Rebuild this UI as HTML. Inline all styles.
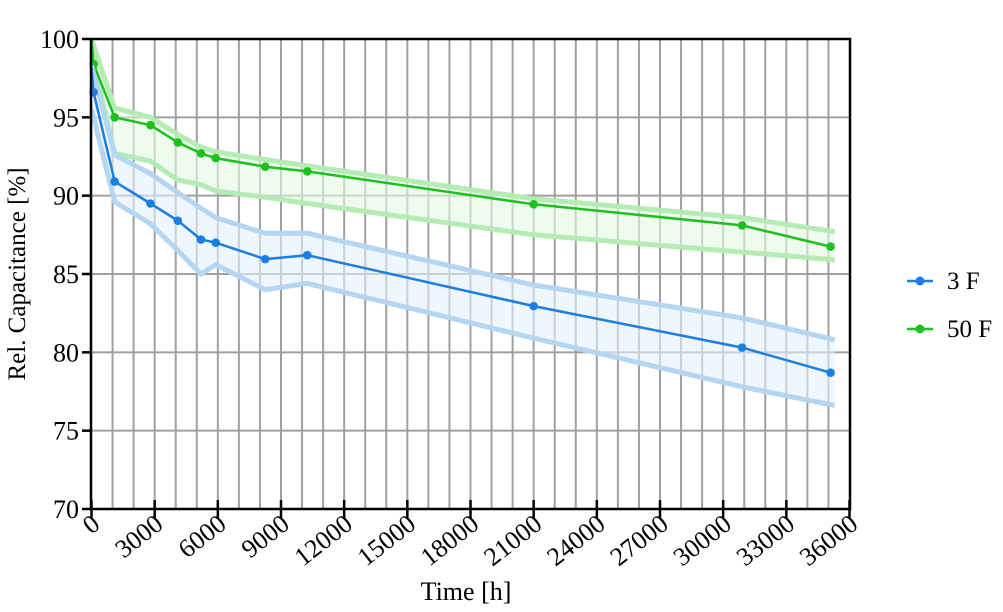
<!DOCTYPE html>
<html><head><meta charset="utf-8"><style>
html,body{margin:0;padding:0;background:#fff;}
svg text{font-family:"Liberation Serif",serif;fill:#000;}
</style></head><body>
<svg id="s" width="1003" height="607" xmlns="http://www.w3.org/2000/svg"></svg>
<script>
const S=document.getElementById('s');
const X=h=>91.5+h*(758/36000), Y=v=>39+(100-v)*(470/30);
let o='';
for(let h=1000;h<36000;h+=1000)o+=`<line x1="${X(h)}" y1="39" x2="${X(h)}" y2="509" stroke="#a0a0a0" stroke-width="2"/>`;
for(let v=75;v<100;v+=5)o+=`<line x1="91" y1="${Y(v)}" x2="850" y2="${Y(v)}" stroke="#a0a0a0" stroke-width="2"/>`;
const pts=(a)=>a.map(p=>X(p[0]).toFixed(1)+','+Y(p[1]).toFixed(1)).join(' ');
function series(main,up,lo,col,band,fill){
 const poly=up.map(p=>[p[0],p[1]]).concat(lo.slice().reverse());
 o+=`<polygon points="${pts(poly)}" fill="${fill}" opacity="0.6"/>`;
 o+=`<polyline points="${pts(up)}" fill="none" stroke="${band}" stroke-width="5"/>`;
 o+=`<polyline points="${pts(lo)}" fill="none" stroke="${band}" stroke-width="5"/>`;
 o+=`<polyline points="${pts(main)}" fill="none" stroke="${col}" stroke-width="2.5"/>`;
 main.slice(1).forEach(p=>o+=`<circle cx="${X(p[0])}" cy="${Y(p[1])}" r="4.3" fill="${col}"/>`);
}
const hs=[1100,2800,4100,5200,5900,8250,10250,21000,30900,35100];
series([[0,100],[100,98.4]].concat(hs.map((h,i)=>[h,[95.0,94.5,93.4,92.7,92.4,91.85,91.55,89.45,88.1,86.75][i]])),
 [[0,100],[1100,95.6],[2800,95.0],[4100,93.9],[5200,93.1],[5900,92.8],[8250,92.3],[10250,91.9],[21000,89.8],[30900,88.6],[35300,87.7]],
 [[0,99],[1100,92.7],[2800,92.2],[4100,91.0],[5200,90.7],[5900,90.3],[8250,89.9],[10250,89.5],[21000,87.5],[30900,86.4],[35300,85.9]],
 '#1ec01e','#b4ecb4','#e4f8e4');
series([[0,98.2],[100,96.6]].concat(hs.map((h,i)=>[h,[90.9,89.5,88.4,87.2,87.0,85.95,86.2,82.95,80.3,78.7][i]])),
 [[0,98.3],[1100,92.6],[2800,91.4],[4100,90.2],[5200,89.2],[5900,88.6],[8250,87.6],[10250,87.6],[21000,84.3],[30900,82.2],[35300,80.8]],
 [[0,95.5],[1100,89.6],[2800,88.2],[4100,86.5],[5200,85.0],[5900,85.6],[8250,84.0],[10250,84.4],[21000,80.9],[30900,77.8],[35300,76.6]],
 '#1a7fe0','#b4d6f2','#e4f0fb');
o+=`<rect x="91" y="39" width="759" height="470" fill="none" stroke="#000" stroke-width="2.5"/>`;
for(let v=70;v<=100;v+=5){o+=`<line x1="82" y1="${Y(v)}" x2="91" y2="${Y(v)}" stroke="#000" stroke-width="2.5"/><text x="79" y="${Y(v)+9}" font-size="26" text-anchor="end">${v}</text>`;}
for(let h=0;h<=36000;h+=3000){const x=X(h);o+=`<line x1="${x}" y1="500" x2="${x}" y2="518" stroke="#000" stroke-width="2.5"/><text transform="translate(${x+10},${527}) rotate(-38)" font-size="26" text-anchor="end">${h}</text>`;}
o+=`<text x="466" y="600" font-size="26" text-anchor="middle">Time [h]</text>`;
o+=`<text transform="translate(25,274) rotate(-90)" font-size="25" text-anchor="middle">Rel. Capacitance [%]</text>`;
o+=`<line x1="907" y1="281" x2="933" y2="281" stroke="#1a7fe0" stroke-width="2.5"/><circle cx="920" cy="281" r="4.5" fill="#1a7fe0"/><text x="947" y="289" font-size="25">3 F</text>`;
o+=`<line x1="907" y1="329" x2="933" y2="329" stroke="#1ec01e" stroke-width="2.5"/><circle cx="920" cy="329" r="4.5" fill="#1ec01e"/><text x="947" y="337" font-size="25">50 F</text>`;
S.innerHTML=o;
</script>
</body></html>
